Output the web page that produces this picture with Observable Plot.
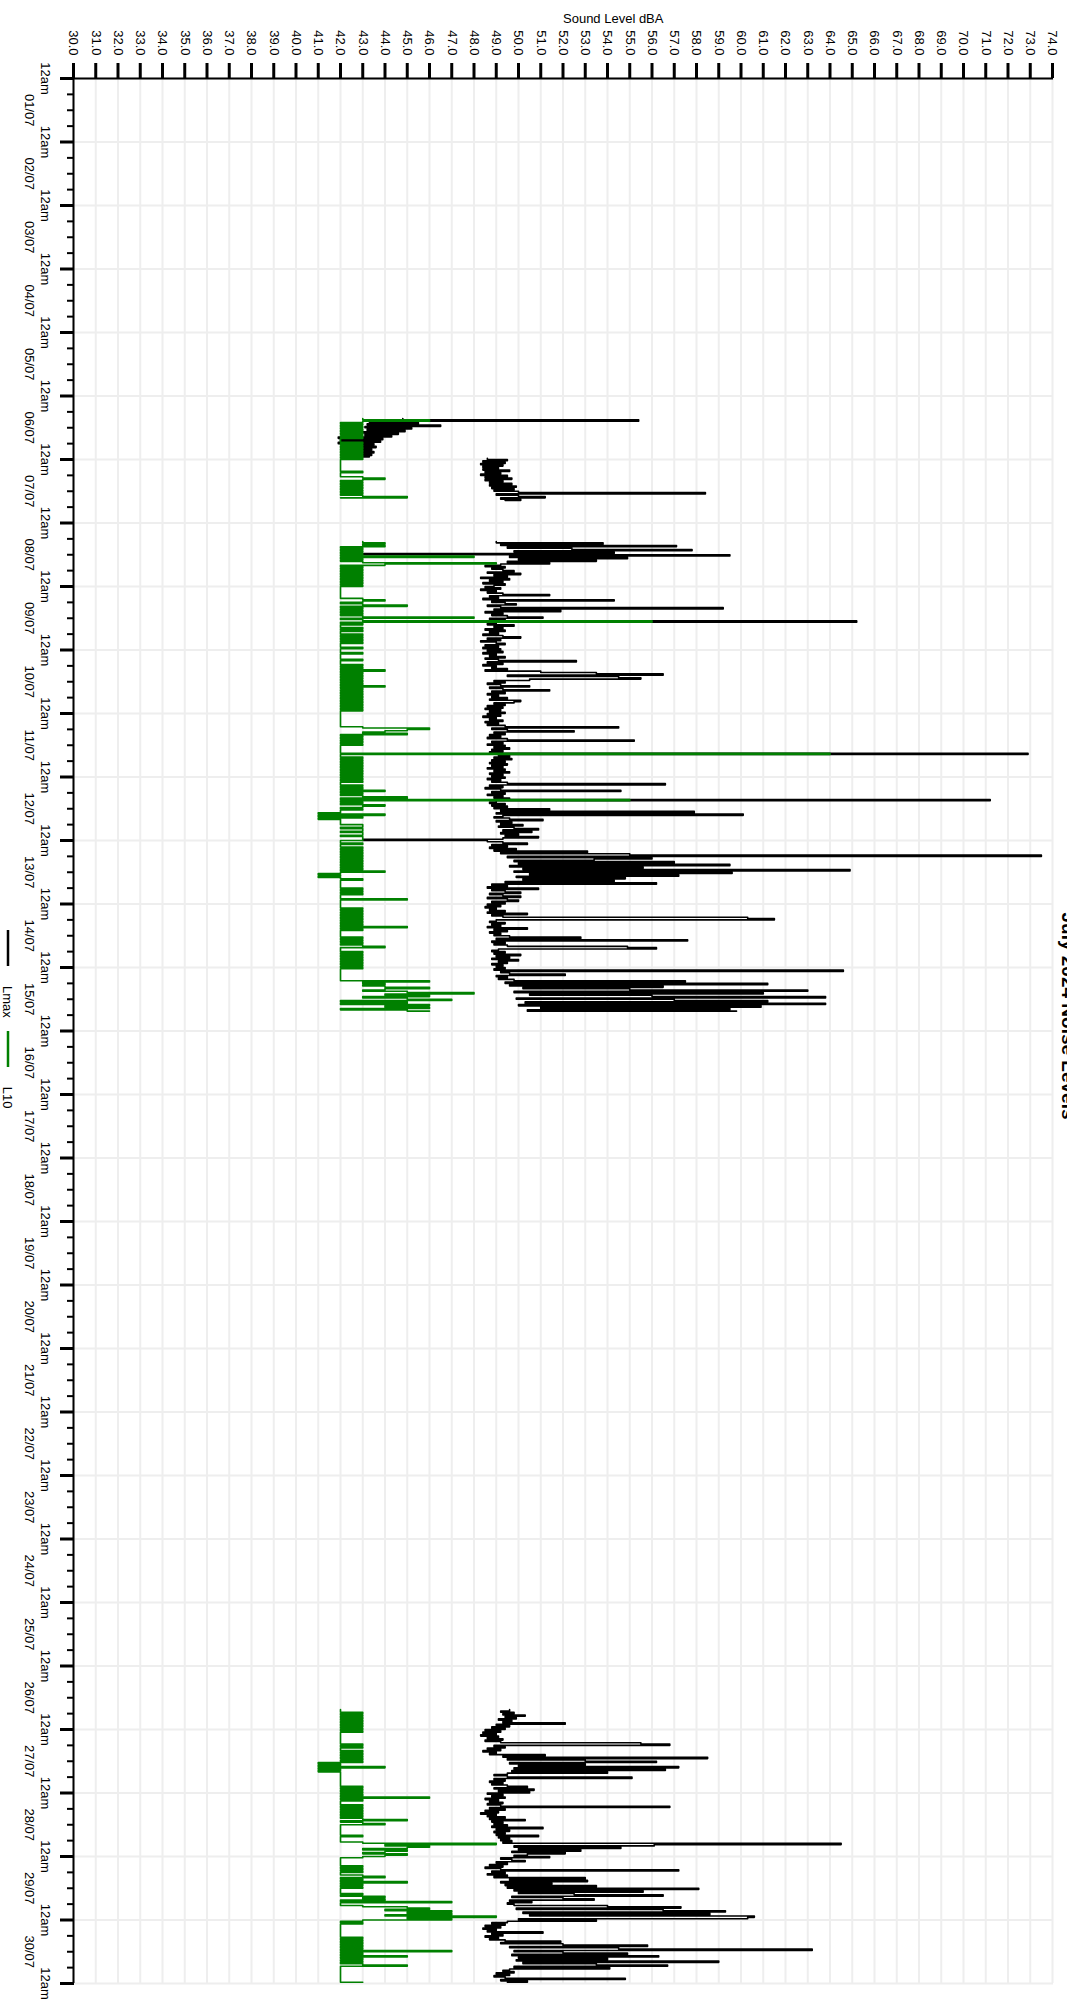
<!DOCTYPE html>
<html>
<head>
<meta charset="utf-8">
<script src="https://cdn.jsdelivr.net/npm/d3@7"></script>
<script src="https://cdn.jsdelivr.net/npm/@observablehq/plot@0.6"></script>
<style>
  html, body { margin: 0; padding: 0; background: #fff; overflow: hidden; }
  #page { width: 1067px; height: 2009px; position: relative; overflow: hidden; }
  /* the chart is laid out landscape and turned a quarter turn clockwise */
  #stage { position: absolute; left: 0; top: 0; width: 2009px; height: 1067px;
           transform-origin: 0 0; transform: translate(1067px, 0) rotate(90deg);
           font-family: "Liberation Sans", Arial, Helvetica, sans-serif; color: #000; }
  #chart { position: absolute; left: 0; top: 0; }
  #title { position: absolute; left: 0; top: 0; overflow: visible; }
  #legend { position: absolute; left: 930px; top: 1049px; height: 20px;
            display: flex; align-items: center; font-size: 13px; white-space: nowrap; }
  #legend .key { display: flex; align-items: center; margin-right: 13px; flex: none; }
  #legend svg { margin-right: 20px; flex: none; }
</style>
</head>
<body>
<div id="page">
  <div id="stage">
    <div id="chart"></div>
    <svg id="title" width="2009" height="20"></svg>
    <div id="legend"></div>
  </div>
</div>
<script>
const titleText = "July 2024 Noise Levels";
const seriesNames = ["Lmax", "L10"];
const seriesColors = ["black", "green"];
const levelLabel = "Sound Level dBA";

// Half-hourly readings (dBA). Each array starts at the time given beside it.
const lmaxStartA1 = "2024-07-06T08:30";
const lmaxA1 = [44.8,55.4,43.3,45.5,43.2,46.5,43.1,45.2,43.2,44.9,43.0,44.6,43.1,44.3,41.9,
  43.9,42.0,43.8,41.9,43.5,42.4,43.6,42.3,43.4,42.5,43.5,42.6,43.4,42.8,43.3];

const lmaxStartA2 = "2024-07-06T23:30";
const lmaxA2 = [48.6,49.5,48.4,49.4,48.3,49.3,48.4,49.1,48.4,49.6,48.5,49.2,48.3,49.5,48.5,
  49.7,48.5,49.3,48.7,49.7,48.7,49.9,48.8,49.8,48.9,50.0,58.4,49.0,50.0,51.2,49.2,50.1,49.4];

const l10StartA = "2024-07-06T08:30";
const l10A = [43,46,43,42,43,42,43,42,43,42,43,42,43,42,43,42,42,42,43,42,43,42,43,42,43,42,43,42,43,42,43,
  42,42,42,42,42,42,42,42,42,
  43,42,42,42,
  43,44,43,42,43,42,43,42,43,42,43,42,43,42,43,45,42];

const lmaxStartB = "2024-07-08T07:00";
const lmaxB = [
  // 08/07
  49.0,53.8,49.2,57.1,49.5,52.4,57.8,49.8,54.3,43.0,59.5,49.6,54.9,50.0,53.5,49.5,51.4,
  49.2,48.5,49.4,48.8,49.3,49.8,48.6,50.1,48.9,49.5,48.3,49.6,48.7,49.3,48.4,49.4,48.9,
  // 09/07
  48.5,49.2,48.3,49.0,48.6,49.3,51.4,48.7,49.1,48.4,54.3,48.8,49.4,49.9,48.6,49.2,
  59.2,48.9,51.9,48.5,49.3,48.8,49.5,51.1,48.7,49.4,65.2,49.0,48.6,49.8,48.9,49.3,
  48.5,49.4,48.7,49.1,48.4,49.3,50.1,48.6,49.2,48.3,49.0,49.4,48.5,49.1,48.4,49.2,
  // 10/07
  48.6,49.3,48.4,49.0,48.7,49.4,48.5,49.1,52.6,48.6,49.3,48.4,49.0,48.8,49.5,48.5,
  51.0,53.5,56.5,49.5,54.5,55.5,50.5,48.9,49.4,48.6,49.2,50.5,48.7,49.3,51.4,48.8,
  49.4,48.6,49.1,48.8,49.5,48.7,50.1,49.8,48.9,49.4,48.6,49.3,48.5,49.2,48.7,49.4,
  // 11/07
  48.6,49.2,48.4,49.0,48.7,49.3,48.5,49.1,48.6,49.4,54.5,48.8,49.5,52.5,48.9,49.4,
  48.7,49.2,48.6,49.5,55.2,48.8,49.3,48.6,49.4,48.9,49.6,48.8,49.3,48.7,72.9,49.1,
  49.6,48.9,49.7,48.8,49.4,48.7,49.5,48.8,49.3,48.6,49.4,48.9,49.6,48.7,49.3,48.8,
  // 12/07
  49.4,48.6,49.2,48.8,49.5,56.6,48.7,49.3,48.5,49.2,54.6,48.8,49.4,48.6,49.3,48.9,
  49.6,71.2,49.0,48.7,49.4,48.8,49.5,48.9,51.4,49.2,57.9,49.0,60.1,49.3,48.9,49.6,
  51.1,49.0,49.7,49.2,50.2,49.1,49.8,50.9,49.3,50.6,49.2,50.0,49.4,50.9,49.3,43.0,
  // 13/07
  48.6,49.3,50.4,48.8,49.5,48.7,49.9,48.9,
  53.1,49.2,55.0,73.5,49.5,56.0,53.4,49.8,57.0,50.0,59.5,49.6,55.6,50.2,64.9,49.8,
  59.6,50.5,57.2,49.9,54.8,50.2,54.3,49.4,56.2,
  48.8,49.5,48.6,50.9,48.8,49.4,50.1,48.7,49.3,50.1,48.6,49.5,50.0,48.8,49.4,
  // 14/07
  48.6,49.2,48.5,49.0,48.7,49.4,48.6,50.4,48.8,49.3,60.3,61.5,49.0,48.7,49.4,48.8,
  49.2,48.6,50.4,48.9,49.5,48.7,49.2,48.9,49.6,52.8,49.0,57.6,48.8,49.4,48.9,49.5,
  54.9,56.2,49.1,48.8,49.4,48.9,50.1,49.0,49.6,48.8,50.0,49.1,49.5,48.8,49.3,49.0,
  // 15/07
  49.4,48.9,64.6,49.2,49.6,52.1,49.0,49.5,49.1,49.8,57.5,49.4,
  61.2,49.6,56.5,50.2,55.0,63.0,49.8,61.0,50.5,56.0,63.8,49.9,57.0,61.2,50.3,63.8,
  50.0,60.9,51.0,59.5,50.4,59.8];

const l10StartB = "2024-07-08T07:00";
const l10B = [
  // 08/07
  43,44,43,44,42,43,42,43,42,43,42,48,42,43,42,43,49,44,42,43,
  42,43,42,43,42,43,42,43,42,43,42,43,42,43,
  // 09/07
  42,42,42,42,42,42,42,42,42,
  43,44,43,42,43,45,42,43,42,43,42,43,42,43,48,42,43,56,42,43,
  42,42,43,42,43,42,42,43,42,43,42,43,42,43,42,42,42,43,42,
  // 10/07
  42,42,43,42,42,42,42,43,42,42,42,
  43,42,43,42,44,42,43,42,43,42,43,42,43,42,43,42,44,42,43,42,
  43,42,43,42,43,42,43,42,43,42,43,42,43,42,43,42,42,
  // 11/07
  42,42,42,42,42,42,42,42,42,42,
  43,46,45,44,43,45,42,43,42,43,42,43,42,43,42,42,42,42,42,42,64,42,
  42,43,42,43,42,43,42,43,42,43,42,43,42,43,42,43,
  // 12/07
  42,43,42,43,42,42,43,42,43,42,44,42,43,42,43,45,42,55,42,43,
  42,44,43,42,43,42,42,41,44,41,43,41,42,42,42,42,43,43,42,43,
  43,42,43,43,42,43,43,43,
  // 13/07
  42,42,43,42,42,43,42,43,42,43,42,43,42,43,42,43,42,43,42,43,
  42,43,42,44,42,41,42,41,42,43,42,42,42,42,42,42,43,42,43,42,
  43,42,42,42,45,42,42,42,
  // 14/07
  42,42,42,43,42,43,42,43,42,43,42,43,42,43,42,43,42,45,42,43,
  42,42,42,42,42,43,42,43,42,43,42,43,44,42,42,42,43,42,43,42,
  43,42,43,42,43,42,43,42,
  // 15/07
  43,42,42,42,42,42,42,42,42,42,46,43,44,43,44,46,44,43,45,48,
  44,46,43,45,47,42,45,42,46,44,46,42,45,46];

const lmaxStartC = "2024-07-26T16:30";
const lmaxC = [
  // 26/07
  49.6,49.2,49.8,49.3,50.3,49.4,49.9,49.1,49.7,49.3,52.1,49.0,49.6,48.8,49.4,
  // 27/07
  48.5,49.2,48.4,49.0,48.3,49.1,48.6,49.3,48.5,49.2,
  55.5,56.8,48.9,49.4,48.6,49.2,48.4,49.0,48.7,51.2,
  49.3,58.5,49.5,53.0,56.2,49.6,53.0,50.0,57.2,49.8,
  56.6,49.7,54.0,49.5,48.9,49.5,55.1,48.9,49.4,48.7,
  49.3,48.8,49.5,50.4,48.9,50.7,49.1,50.5,
  // 28/07
  48.6,49.3,48.8,49.4,48.5,49.1,48.7,49.3,48.6,49.2,
  56.8,48.7,49.4,48.5,49.1,48.3,49.0,48.6,49.4,48.7,
  50.3,48.8,49.3,48.9,49.5,48.8,51.1,49.0,49.6,48.9,
  49.4,49.0,50.9,49.1,49.6,49.2,49.7,49.3,64.5,56.1,
  49.8,54.6,50.0,52.8,49.7,52.1,50.4,49.8,
  // 29/07
  51.4,49.2,49.7,50.3,49.0,49.5,48.7,49.3,48.5,49.2,
  57.2,48.8,49.4,48.6,49.5,48.9,53.0,49.6,53.1,49.2,
  51.5,49.4,53.5,49.5,58.1,49.8,55.6,50.0,52.5,56.5,
  49.7,52.0,53.4,49.6,50.6,49.5,49.8,54.0,57.3,49.9,
  56.5,59.3,50.2,58.6,50.5,60.6,60.3,50.0,
  // 30/07
  53.5,49.5,48.8,49.4,48.5,49.2,48.4,49.0,48.6,51.1,
  48.8,49.3,48.5,49.1,48.7,49.4,51.9,49.2,52.0,55.8,
  49.6,54.5,63.2,49.8,52.0,54.9,49.7,56.3,50.0,54.0,
  49.9,59.0,50.2,53.5,56.7,49.8,54.1,49.6,49.3,49.8,
  49.0,49.6,48.9,49.4,54.8,49.2,50.4,49.5];

const l10StartC = "2024-07-26T16:30";
const l10C = [
  // 26/07
  42,42,43,42,43,42,43,42,43,42,43,42,43,42,43,
  // 27/07
  42,43,42,42,42,42,42,42,42,42,42,43,42,43,42,42,43,42,43,42,
  43,42,43,42,43,41,42,41,44,41,42,41,42,42,42,42,42,42,42,42,
  42,42,42,43,42,43,42,43,
  // 28/07
  42,43,42,46,42,43,42,42,42,43,42,43,42,43,42,43,42,43,42,43,
  45,42,43,44,42,42,42,42,42,42,42,42,43,42,42,42,42,43,49,44,
  46,45,43,45,44,43,45,44,
  // 29/07
  43,42,42,42,42,42,42,43,42,43,42,43,42,42,43,44,42,43,42,45,
  42,43,42,43,42,42,42,42,43,42,44,43,44,42,47,42,42,43,45,46,
  44,47,45,47,44,49,45,47,
  // 30/07
  43,42,43,42,42,42,42,42,42,42,42,42,42,43,42,43,42,43,42,43,
  42,43,42,47,42,43,42,45,42,43,42,43,42,43,45,42,42,42,42,42,
  42,42,42,42,42,42,42,43];

// Axis extents and ticks
const levelTicks = d3.range(30, 75, 1);
const monthStart = new Date(Date.UTC(2024, 6, 1));
const monthEnd = new Date(Date.UTC(2024, 6, 31));
const dayTicks = d3.utcDay.range(monthStart, d3.utcDay.offset(monthEnd, 1));
const quarterDayTicks = d3.utcHour.every(6).range(monthStart, monthEnd).filter(d => d.getUTCHours() !== 0);
const noonTicks = d3.utcDay.range(monthStart, monthEnd).map(d => d3.utcHour.offset(d, 12));

const slotMs = 30 * 60 * 1000;
function readings(series, seg, start, values) {
  const t0 = d3.isoParse(start + ":00Z");
  return values.map((v, i) => ({series, seg, time: new Date(+t0 + i * slotMs), value: v}));
}

const lmaxRows = [
  ...readings("Lmax", "a1", lmaxStartA1, lmaxA1),
  ...readings("Lmax", "a2", lmaxStartA2, lmaxA2),
  ...readings("Lmax", "b", lmaxStartB, lmaxB),
  ...readings("Lmax", "c", lmaxStartC, lmaxC)
];
const l10Rows = [
  ...readings("L10", "a", l10StartA, l10A),
  ...readings("L10", "b", l10StartB, l10B),
  ...readings("L10", "c", l10StartC, l10C)
];

const fontFamily = '"Liberation Sans", Arial, Helvetica, sans-serif';

const chart = Plot.plot({
  width: 2009,
  height: 1045,
  marginTop: 14,
  marginRight: 26,
  marginBottom: 52,
  marginLeft: 78,
  style: {fontFamily, fontSize: "13px", color: "black", background: "white", overflow: "visible"},
  x: {type: "utc", domain: [monthStart, monthEnd]},
  y: {domain: [30, 74]},
  marks: [
    Plot.gridY(levelTicks, {stroke: "#eeeeee", strokeOpacity: 1, strokeWidth: 2}),
    Plot.gridX(dayTicks, {stroke: "#eeeeee", strokeOpacity: 1, strokeWidth: 2}),
    Plot.line(lmaxRows, {x: "time", y: "value", z: "seg", stroke: seriesColors[0], strokeWidth: 1.6, curve: "step-after"}),
    Plot.line(l10Rows, {x: "time", y: "value", z: "seg", stroke: seriesColors[1], strokeWidth: 1.6, curve: "step-after"}),
    Plot.ruleX([monthStart], {stroke: "black", strokeWidth: 2}),
    Plot.ruleY([30], {stroke: "black", strokeWidth: 2}),
    Plot.axisY(levelTicks, {tickFormat: d3.format(".1f"), tickSize: 15, tickPadding: 8, strokeWidth: 3, label: null}),
    Plot.axisX(dayTicks, {tickFormat: () => "12am", tickSize: 14, tickPadding: 9, strokeWidth: 3, label: null}),
    Plot.axisX(quarterDayTicks, {tickFormat: () => "", tickSize: 7, strokeWidth: 2, label: null}),
    Plot.axisX(noonTicks, {tickFormat: d3.utcFormat("%d/%m"), tickSize: 0, tickPadding: 39, label: null}),
    Plot.text([levelLabel], {frameAnchor: "left", dx: -60, rotate: -90, text: d => d, fontSize: 13})
  ]
});
document.getElementById("chart").appendChild(chart);

// Title along the top edge
d3.select("#title").append("text")
  .attr("x", 1016).attr("y", 5)
  .attr("text-anchor", "middle")
  .attr("font-family", fontFamily)
  .attr("font-size", 19).attr("font-weight", "bold")
  .attr("fill", "black")
  .text(titleText);

// Legend row under the chart
const legend = d3.select("#legend");
seriesNames.forEach((name, i) => {
  const key = legend.append("span").attr("class", "key");
  const sw = key.append("svg").attr("width", 36).attr("height", 4);
  sw.append("line").attr("x1", 0).attr("x2", 36).attr("y1", 2).attr("y2", 2)
    .attr("stroke", seriesColors[i]).attr("stroke-width", 2.5);
  key.append("span").text(name);
});
</script>
</body>
</html>
